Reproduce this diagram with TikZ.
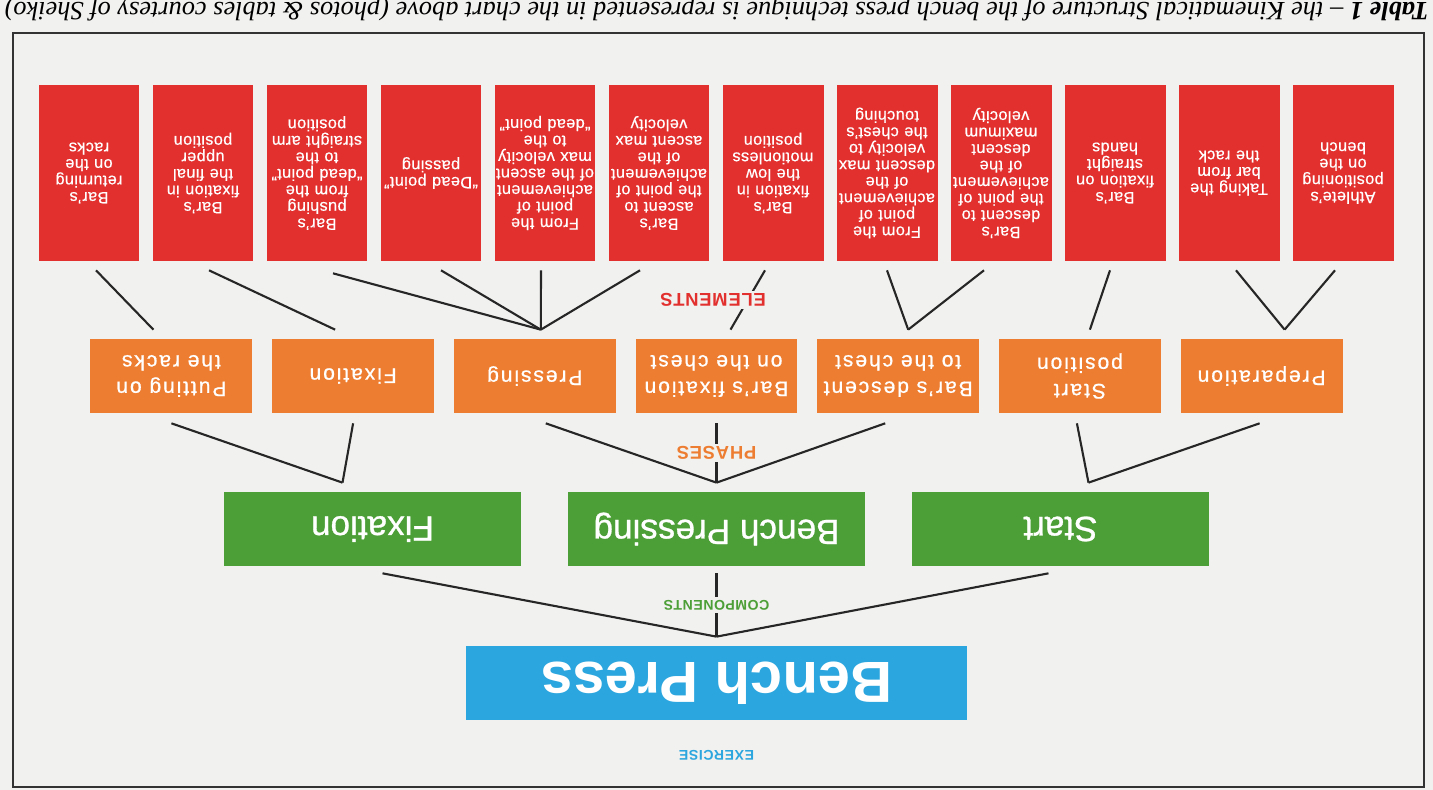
\documentclass[tikz,border=0pt]{standalone}
\usepackage{fontspec}
\setmainfont{Liberation Serif}
\newfontfamily\boxfont[FakeBold=0.8]{Liberation Sans}
\newfontfamily\exercisefont{Liberation Sans}
\newfontfamily\elementfont[LetterSpace=2, FakeBold=0.5]{Liberation Sans}
\newfontfamily\phasefont[LetterSpace=9, FakeBold=0.8]{Liberation Sans}
\newfontfamily\levelfont[LetterSpace=4]{Liberation Sans}
\usetikzlibrary{positioning}
\definecolor{paper}{HTML}{F1F1EF}
\definecolor{exerciseblue}{HTML}{2CA6DE}
\definecolor{componentgreen}{HTML}{4C9E36}
\definecolor{phaseorange}{HTML}{ED7D31}
\definecolor{elementred}{HTML}{E2302E}
\tikzset{
    exercise-box/.style = {fill=exerciseblue, text=white, rectangle, inner sep=0pt, minimum width=10.02cm, minimum height=1.48cm, font=\exercisefont\bfseries\fontsize{33}{38}\selectfont},
    component-box/.style = {fill=componentgreen, text=white, rectangle, inner sep=0pt, minimum width=5.96cm, minimum height=1.48cm, font=\boxfont\fontsize{20}{24}\selectfont},
    phase-box/.style = {fill=phaseorange, text=white, rectangle, inner sep=0pt, minimum width=3.24cm, minimum height=1.48cm, align=center, font=\phasefont\fontsize{12}{15}\selectfont},
    element-box/.style = {fill=elementred, text=white, rectangle, inner sep=0pt, text width=2.02cm, minimum height=3.52cm, align=center, font=\elementfont\fontsize{9.3}{9.4}\selectfont},
    level-label/.style = {fill=paper, inner sep=1.5pt, font=\levelfont\bfseries},
    link/.style = {draw=black!85, line width=1.2pt},
}

\begin{document}
\begin{tikzpicture}[x=0.02cm, y=0.02cm]
\fill[paper] (0,0) rectangle (1433,790);
\useasboundingbox (0,0) rectangle (1433,790);
\begin{scope}[rotate around={180:(716.5,395)}, transform shape]
\draw[black!80, line width=1.3pt] (9,33) rectangle (1420,787);
\node[anchor=base west, inner sep=0pt, font=\fontsize{15}{17}\selectfont] (caption) at (4,3) {\textbf{\textit{Table 1}} \textit{– the Kinematical Structure of the bench press technique is represented in the chart above (photos \& tables courtesy of Sheiko)}};

% exercise and components
\node[exercise-box] (bp) at (716.5,683) {Bench Press};
\node[level-label, text=exerciseblue, font=\levelfont\bfseries\fontsize{8}{9}\selectfont] (exercise) at (716.5,755) {EXERCISE};
\node[component-box] (c-start) at (372.5,529) {Start};
\node[component-box] (c-press) at (716.5,529) {Bench Pressing};
\node[component-box] (c-fix) at (1060.5,529) {Fixation};

% phases
\node[phase-box] (p-prep) at (171.4,376) {Preparation};
\node[phase-box] (p-start) at (353.1,376) {Start\\position};
\node[phase-box] (p-descent) at (534.8,376) {Bar’s descent\\to the chest};
\node[phase-box] (p-hold) at (716.5,376) {Bar’s fixation\\on the chest};
\node[phase-box] (p-press) at (898.2,376) {Pressing};
\node[phase-box] (p-fix) at (1079.9,376) {Fixation};
\node[phase-box] (p-rack) at (1261.6,376) {Putting on\\the racks};

% elements
\node[element-box] (e1) at (90,173) {Athlete’s\\positioning\\on the\\bench};
\node[element-box] (e2) at (204,173) {Taking the\\bar from\\the rack};
\node[element-box] (e3) at (318,173) {Bar’s\\fixation on\\straight\\hands};
\node[element-box] (e4) at (432,173) {Bar’s\\descent to\\the point of\\achievement\\of the\\descent\\maximum\\velocity};
\node[element-box] (e5) at (546,173) {From the\\point of\\achievement\\of the\\descent max\\velocity to\\the chest’s\\touching};
\node[element-box] (e6) at (660,173) {Bar’s\\fixation in\\the low\\motionless\\position};
\node[element-box] (e7) at (774,173) {Bar’s\\ascent to\\the point of\\achievement\\of the\\ascent max\\velocity};
\node[element-box] (e8) at (888,173) {From the\\point of\\achievement\\of the ascent\\max velocity\\to the\\“dead point”};
\node[element-box] (e9) at (1002,173) {“Dead point”\\passing};
\node[element-box] (e10) at (1116,173) {Bar’s\\pushing\\from the\\“dead point”\\to the\\straight arm\\position};
\node[element-box] (e11) at (1230,173) {Bar’s\\fixation in\\the final\\upper\\position};
\node[element-box] (e12) at (1344,173) {Bar’s\\returning\\on the\\racks};

% exercise -> components
\coordinate (bp-a) at ([shift={(0,-9)}]bp.south);
\draw[link] (bp-a) -- ([shift={(12,7)}]c-start.north);
\draw[link] (bp-a) -- ([shift={(-10,7)}]c-fix.north);
\draw[link] (bp-a) -- ([shift={(0,7)}]c-press.north) node[level-label, text=componentgreen, font=\levelfont\bfseries\fontsize{8}{9}\selectfont, midway] {COMPONENTS};

% components -> phases
\coordinate (cs-a) at ([shift={(-28,-9)}]c-start.south);
\draw[link] (cs-a) -- ([shift={(2,10)}]p-prep.north);
\draw[link] (cs-a) -- ([shift={(3,10)}]p-start.north);
\coordinate (cp-a) at ([shift={(0,-9)}]c-press.south);
\draw[link] (cp-a) -- ([shift={(13,10)}]p-descent.north);
\draw[link] (cp-a) -- ([shift={(0,10)}]p-hold.north) node[level-label, text=phaseorange, font=\levelfont\bfseries\fontsize{10.5}{12}\selectfont, midway] {PHASES};
\draw[link] (cp-a) -- ([shift={(-11,10)}]p-press.north);
\coordinate (cf-a) at ([shift={(30,-9)}]c-fix.south);
\draw[link] (cf-a) -- ([shift={(0,10)}]p-fix.north);
\draw[link] (cf-a) -- ([shift={(0,10)}]p-rack.north);

% phases -> elements
\coordinate (pp-a) at ([shift={(-23,-9)}]p-prep.south);
\draw[link] (pp-a) -- ([shift={(8,9)}]e1.north);
\draw[link] (pp-a) -- ([shift={(-7,9)}]e2.north);
\draw[link] ([shift={(-10,-9)}]p-start.south) -- ([shift={(5,9)}]e3.north);
\coordinate (pd-a) at ([shift={(-10,-9)}]p-descent.south);
\draw[link] (pd-a) -- ([shift={(17,9)}]e4.north);
\draw[link] (pd-a) -- ([shift={(0,9)}]e5.north);
\draw[link] ([shift={(-14,-9)}]p-hold.south) -- ([shift={(8,9)}]e6.north);
\node[level-label, text=elementred, font=\levelfont\bfseries\fontsize{10.5}{12}\selectfont] (elements) at (720,300) {ELEMENTS};
\coordinate (pr-a) at ([shift={(-6,-9)}]p-press.south);
\draw[link] (pr-a) -- ([shift={(19,9)}]e7.north);
\draw[link] (pr-a) -- ([shift={(4,9)}]e8.north);
\draw[link] (pr-a) -- ([shift={(-10,9)}]e9.north);
\draw[link] (pr-a) -- ([shift={(-16,12)}]e10.north);
\draw[link] ([shift={(18,-9)}]p-fix.south) -- ([shift={(-6,9)}]e11.north);
\draw[link] ([shift={(18,-9)}]p-rack.south) -- ([shift={(-7,9)}]e12.north);
\end{scope}
\end{tikzpicture}
\end{document}
